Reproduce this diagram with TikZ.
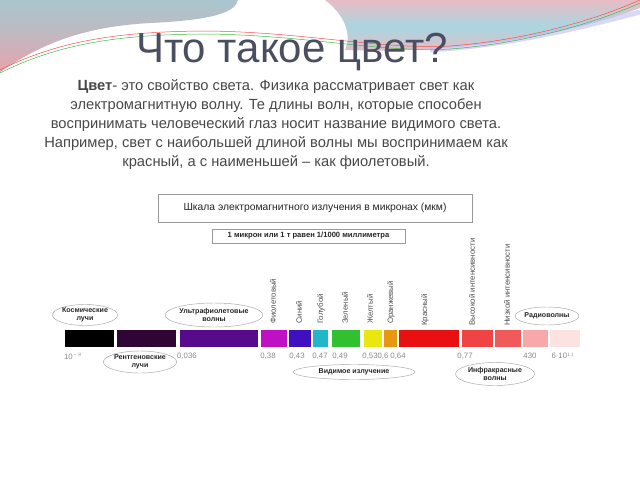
\documentclass[tikz,border=0pt]{standalone}
\usepackage{fontspec}
\setmainfont{Liberation Sans}
\setsansfont{Liberation Sans}
\usetikzlibrary{shapes.geometric}
\definecolor{titlecol}{HTML}{4A4E60}
\definecolor{bodycol}{HTML}{484848}
\definecolor{numcol}{HTML}{8A8A8A}
\definecolor{vcol}{HTML}{505050}
\definecolor{bgblue}{HTML}{A9C6CE}
\definecolor{bgpink}{HTML}{E8A2AC}
\definecolor{rpink}{HTML}{E8BCC5}
\definecolor{rblue}{HTML}{AAD6E0}
\definecolor{cBlack}{HTML}{000000}
\definecolor{cPlum}{HTML}{300535}
\definecolor{cUV}{HTML}{580A8C}
\definecolor{cMag}{HTML}{C010C4}
\definecolor{cBlue}{HTML}{4010C0}
\definecolor{cCyan}{HTML}{20B8C8}
\definecolor{cGreen}{HTML}{30C030}
\definecolor{cYellow}{HTML}{E8E810}
\definecolor{cOrange}{HTML}{E89810}
\definecolor{cRed}{HTML}{E81010}
\definecolor{cIRa}{HTML}{F04444}
\definecolor{cIRb}{HTML}{F05A5A}
\definecolor{cPink}{HTML}{F8A8A8}
\definecolor{cPale}{HTML}{FDE2E2}
\begin{document}
\begin{tikzpicture}[x=1pt,y=-1pt,
  ell/.style={ellipse, draw=gray!70, line width=0.45pt, inner sep=0pt, align=center,
    font=\bfseries\fontsize{7.1}{8.3}\selectfont, text=black!85},
  num/.style={font=\fontsize{7.8}{8}\selectfont, text=numcol, inner sep=0pt},
  vlab/.style={rotate=90, anchor=west, inner sep=0pt, font=\fontsize{7.8}{8}\selectfont, text=vcol},
  seg/.style={draw=none}]
\useasboundingbox (0,0) rectangle (640,480);
\fill[white] (0,0) rectangle (640,480);
% decoration
\shade[top color=bgblue, bottom color=bgpink, middle color=bgblue!60!bgpink]
  (0,0) -- (238,0) .. controls (235,12) and (215,20) .. (150,23)
  .. controls (80,27) and (40,45) .. (0,72) -- cycle;
\shade[top color=rpink, bottom color=rpink, middle color=rblue]
  (325,0) .. controls (345,15) and (352,35) .. (345,50)
  .. controls (450,54) and (560,38) .. (640,8) -- (640,0) -- cycle;
\draw[line width=5pt, color=gray!35!blue!30, opacity=0.6]
  (430,50) .. controls (520,44) and (590,25) .. (640,12);
\draw[line width=0.5pt, color=red!60!pink]
  (0,70) .. controls (60,40) and (120,32) .. (200,31) .. controls (300,31) and (380,50) .. (450,46) .. controls (530,40) and (600,18) .. (640,0);
\draw[line width=0.5pt, color=green!45!gray]
  (0,73) .. controls (60,43) and (120,35) .. (200,34) .. controls (300,34) and (380,53) .. (450,49) .. controls (530,43) and (600,21) .. (640,3);
% title
\node[anchor=base, inner sep=0pt, text=titlecol, font=\fontsize{42}{42}\selectfont] (title) at (292,62) {Что такое цвет?};
% body
\node[anchor=north, inner sep=0pt, align=center, text=bodycol, font=\fontsize{14.7}{19}\selectfont] (body) at (276,79)
 {\textbf{Цвет}- это свойство света. Физика рассматривает свет как\\
  электромагнитную волну. Те длины волн, которые способен\\
  воспринимать человеческий глаз носит название видимого света.\\
  Например, свет с наибольшей длиной волны мы воспринимаем как\\
  красный, а с наименьшей – как фиолетовый.};
% scale boxes
\node[draw=gray!80, line width=0.5pt, minimum width=314pt, minimum height=28pt, inner sep=0pt,
  font=\fontsize{10.3}{12}\selectfont, text=black!85] (scale) at (315,208)
  {Шкала электромагнитного излучения в микронах (мкм)};
\node[draw=gray!80, line width=0.5pt, minimum width=193pt, minimum height=14pt, inner sep=0pt,
  font=\bfseries\fontsize{7.6}{9}\selectfont, text=black!85] (micron) at (308.5,236)
  {1 микрон или 1 т равен 1/1000 миллиметра};
% color bar
\fill[cBlack] (65,330) rectangle (114,347);
\fill[cPlum] (117,330) rectangle (176,347);
\fill[cUV] (180,330) rectangle (258,347);
\fill[cMag] (261,330) rectangle (287,347);
\fill[cBlue] (289,330) rectangle (311,347);
\fill[cCyan] (313,330) rectangle (328,347);
\fill[cGreen] (332,330) rectangle (360,347);
\fill[cYellow] (364,330) rectangle (382,347);
\fill[cOrange] (384,330) rectangle (397,347);
\fill[cRed] (399,330) rectangle (459,347);
\fill[cIRa] (462,330) rectangle (493,347);
\fill[cIRb] (495,330) rectangle (521,347);
\fill[cPink] (523,330) rectangle (548,347);
\fill[cPale] (550,330) rectangle (580,347);
% vertical labels
\node[vlab] (v1) at (273,324) {Фиолетовый};
\node[vlab] (v2) at (299,324) {Синий};
\node[vlab] (v3) at (321,324) {Голубой};
\node[vlab] (v4) at (345,324) {Зеленый};
\node[vlab] (v5) at (370,324) {Желтый};
\node[vlab] (v6) at (391,324) {Оранжевый};
\node[vlab] (v7) at (425,326) {Красный};
\node[vlab] (v8) at (472,326) {Высокой интенсивности};
\node[vlab] (v9) at (507,326) {Низкой интенсивности};
% numbers
\node[num] (n1) at (73,356) {10$^{-8}$};
\node[num] (n2) at (187,356) {0,036};
\node[num] (n3) at (268,356) {0,38};
\node[num] (n4) at (297,356) {0,43};
\node[num] (n5) at (320,356) {0,47};
\node[num] (n6) at (340,356) {0,49};
\node[num] (n7) at (370,356) {0,53};
\node[num] (n8) at (383,356) {0,6};
\node[num] (n9) at (398,356) {0,64};
\node[num] (n10) at (465,356) {0,77};
\node[num] (n11) at (530,356) {430};
\node[num] (n12) at (563,356) {6·10$^{11}$};
% ellipse labels
\node[ell, minimum width=62pt, minimum height=21pt] (cosmic) at (85,315) {Космические\\лучи};
\node[ell, minimum width=92pt, minimum height=24pt] (uv) at (214,315) {Ультрафиолетовые\\волны};
\node[ell, minimum width=66pt, minimum height=22pt] (xray) at (140,362) {Рентгеновские\\лучи};
\node[ell, minimum width=122pt, minimum height=15pt] (vis) at (354,372) {Видимое излучение};
\node[ell, minimum width=79pt, minimum height=23pt] (ir) at (495,374) {Инфракрасные\\волны};
\node[ell, minimum width=61pt, minimum height=18pt] (radio) at (547,316) {Радиоволны};
\end{tikzpicture}
\end{document}
